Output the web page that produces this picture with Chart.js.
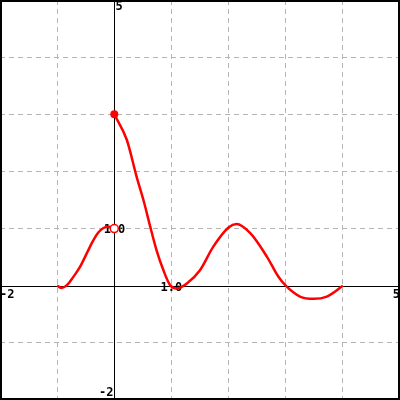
<!DOCTYPE html>
<html>
<head>
<meta charset="utf-8">
<script src="https://cdn.jsdelivr.net/npm/chart.js@4/dist/chart.umd.min.js"></script>
<style>
  body { margin: 0; background: #fff; }
  canvas { display: block; }
</style>
</head>
<body>
<canvas id="myChart" width="400" height="400"></canvas>
<script>
// tramo 1: de x=-1 a x=0 (termina en circulo abierto)
var xA = [-1, -0.92, -0.83, -0.72, -0.6, -0.48, -0.37, -0.28, -0.19, -0.08, 0];
var yA = [0, -0.04, 0.01, 0.15, 0.33, 0.57, 0.79, 0.93, 1.01, 1.03, 1.0];
// tramo 2: de x=0 a x=4 (empieza en punto relleno)
var xB = [0, 0.22, 0.39, 0.51, 0.63, 0.74, 0.86, 0.97, 1.09, 1.27, 1.5, 1.73, 2.0, 2.14, 2.38, 2.67, 2.87, 3.0, 3.25, 3.49, 3.72, 4.0];
var yB = [3, 2.55, 1.91, 1.5, 1.03, 0.62, 0.27, 0.02, -0.05, 0.04, 0.27, 0.68, 1.02, 1.08, 0.92, 0.51, 0.16, 0, -0.19, -0.23, -0.19, 0];
var openPt = [0, 1];
var filledPt = [0, 3];
var xRange = [-2, 5];
var yRange = [-2, 5];
var markLabels = ['1.0', '1.0'];

function pts(xs, ys) {
    var out = [];
    for (var i = 0; i < xs.length; i++) out.push({x: xs[i], y: ys[i]});
    return out;
}

// ejes, marco y etiquetas
var axesPlugin = {
    id: 'axesPlugin',
    beforeDatasetsDraw: function(chart) {
        var c = chart.ctx, sx = chart.scales.x, sy = chart.scales.y, a = chart.chartArea;
        var x0 = Math.round(sx.getPixelForValue(0)) + 0.5;
        var y0 = Math.round(sy.getPixelForValue(0)) + 0.5;
        c.save();
        c.strokeStyle = '#000';
        c.lineWidth = 1;
        c.beginPath();
        c.moveTo(x0, a.top); c.lineTo(x0, a.bottom);
        c.moveTo(a.left, y0); c.lineTo(a.right, y0);
        c.stroke();
        c.lineWidth = 2;
        c.strokeRect(a.left + 1, a.top + 1, a.right - a.left - 2, a.bottom - a.top - 2);

        c.fillStyle = '#000';
        c.font = 'bold 12px "DejaVu Sans Mono"';
        c.textBaseline = 'top';
        c.textAlign = 'left';
        c.fillText(String(yRange[1]), x0 + 1, a.top + 1);
        c.textAlign = 'left';
        c.fillText(String(xRange[0]), a.left, y0 + 2);
        c.textAlign = 'right';
        c.fillText(String(xRange[1]), a.right, y0 + 2);
        c.textBaseline = 'bottom';
        c.fillText(String(yRange[0]), x0 - 1, a.bottom - 1);
        c.textAlign = 'center';
        c.textBaseline = 'middle';
        c.fillText(markLabels[0], x0, sy.getPixelForValue(1) + 1);
        c.fillText(markLabels[1], sx.getPixelForValue(1), y0 + 1);
        c.restore();
    }
};

var ctx = document.getElementById('myChart').getContext('2d');
var myChart = new Chart(ctx, {
    type: 'scatter',
    data: {
        datasets: [{
            data: pts(xA, yA),
            showLine: true,
            borderColor: '#ff0000',
            borderWidth: 2.5,
            pointRadius: 0,
            cubicInterpolationMode: 'monotone',
            order: 2
        }, {
            data: pts(xB, yB),
            showLine: true,
            borderColor: '#ff0000',
            borderWidth: 2.5,
            pointRadius: 0,
            cubicInterpolationMode: 'monotone',
            order: 2
        }, {
            data: [{x: openPt[0], y: openPt[1]}],
            pointRadius: 4,
            pointBackgroundColor: '#fff',
            pointBorderColor: '#ff0000',
            pointBorderWidth: 1.5,
            order: 1
        }, {
            data: [{x: filledPt[0], y: filledPt[1]}],
            pointRadius: 4,
            pointBackgroundColor: '#ff0000',
            pointBorderColor: '#ff0000',
            pointBorderWidth: 0,
            order: 0
        }]
    },
    options: {
        responsive: false,
        animation: false,
        layout: { padding: 0, autoPadding: false },
        plugins: { legend: { display: false }, tooltip: { enabled: false } },
        scales: {
            x: {
                type: 'linear',
                min: xRange[0], max: xRange[1],
                ticks: { display: false, stepSize: 1 },
                border: { display: false, dash: [5, 4] },
                grid: {
                    drawTicks: false,
                    color: function(c) { return c.tick.value === 0 ? 'rgba(0,0,0,0)' : '#b4b4b4'; }
                }
            },
            y: {
                type: 'linear',
                min: yRange[0], max: yRange[1],
                ticks: { display: false, stepSize: 1 },
                border: { display: false, dash: [5, 4] },
                grid: {
                    drawTicks: false,
                    color: function(c) { return c.tick.value === 0 ? 'rgba(0,0,0,0)' : '#b4b4b4'; }
                }
            }
        }
    },
    plugins: [axesPlugin]
});
</script>
</body>
</html>
